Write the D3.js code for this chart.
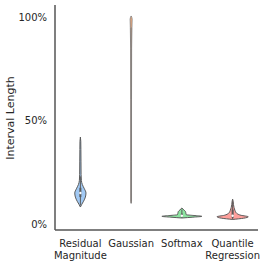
<!DOCTYPE html>
<html><head><meta charset="utf-8">
<script src="https://cdn.jsdelivr.net/npm/d3@7"></script>
<style>body{margin:0;background:#fff}svg{display:block}text{font-family:"DejaVu Sans",sans-serif;fill:#262626}</style>
</head><body><svg id="c" width="266" height="264"></svg>
<script>
const categories = ["Residual\nMagnitude", "Gaussian", "Softmax", "Quantile\nRegression"];
const colors = ["#a1c9f4", "#ffb482", "#8de5a1", "#ff9f9b"];
const yTicks = [0, 50, 100];
// density profiles: [value %, relative density]
const profileResidual = [[8.2,0],[9.5,0.07],[11,0.16],[13,0.25],[15,0.28],[17,0.2],[19,0.1],[21,0.05],[24,0.035],[30,0.03],[36,0.025],[40,0.02],[42,0]];
const profileGaussian = [[10,0],[11,0.02],[30,0.02],[60,0.02],[85,0.025],[95,0.04],[99,0.05],[100.5,0]];
const profileSoftmax = [[2.9,0],[3.3,0.55],[3.7,1.0],[4.1,0.6],[4.5,0.22],[5.2,0.2],[6,0.18],[6.8,0.1],[7.7,0]];
const profileQuantile = [[2.2,0],[2.8,0.55],[3.5,0.78],[4.2,0.42],[5.2,0.2],[6.5,0.12],[8,0.07],[9.5,0.04],[11,0.025],[12,0]];
const profiles = [profileResidual, profileGaussian, profileSoftmax, profileQuantile];
// box stats: [whiskerLow, q1, median, q3, whiskerHigh]
const boxStats = [[9,13,15,17.5,23],[10,35,70,95,100],[2.9,3.6,4.0,5.0,7],[2.2,3.0,4.0,7.0,11]];

const svg = d3.select("#c");
const x = d3.scaleBand().domain(d3.range(categories.length)).range([55, 258]);
const y = d3.scaleLinear().domain([0, 100]).range([224, 17]);
const w = d3.scaleLinear().domain([0, 1]).range([0, 20]);

svg.append("line").attr("x1",55).attr("x2",55).attr("y1",5).attr("y2",230).attr("stroke","#333").attr("stroke-width",1.25);
svg.append("line").attr("x1",55).attr("x2",258).attr("y1",230).attr("y2",230).attr("stroke","#555").attr("stroke-width",1.5);

const yAxis = d3.axisLeft(y).tickValues(yTicks).tickSize(0).tickPadding(8).tickFormat(d => d + "%");
const ga = svg.append("g").attr("transform","translate(55,0)").call(yAxis);
ga.select(".domain").remove();
ga.selectAll("text").style("font-size","10px").style("font-family","DejaVu Sans").attr("fill","#262626");

svg.append("text").attr("transform","translate(14,118) rotate(-90)").attr("text-anchor","middle").style("font-size","11px").text("Interval Length");

categories.forEach((c, i) => {
  const cx = x(i) + x.bandwidth()/2;
  const lines = c.split("\n");
  const t = svg.append("text").attr("x", cx).attr("y", 247).attr("text-anchor","middle").style("font-size","10px");
  lines.forEach((l, j) => t.append("tspan").attr("x", cx).attr("dy", j ? 11.5 : 0).text(l));

  const area = d3.area().curve(d3.curveMonotoneY)
    .y(d => y(d[0])).x0(d => cx - w(d[1])).x1(d => cx + w(d[1]));
  svg.append("path").datum(profiles[i]).attr("d", area)
    .attr("fill", colors[i]).attr("stroke", i === 1 ? "#777" : "#5a5a5a").attr("stroke-width", i === 1 ? 0.8 : 1);

  const b = boxStats[i];
  if (i !== 1) {
    svg.append("line").attr("x1",cx).attr("x2",cx).attr("y1",y(b[0])).attr("y2",y(b[4])).attr("stroke","#5a5a5a").attr("stroke-width",1);
    svg.append("line").attr("x1",cx).attr("x2",cx).attr("y1",y(b[1])).attr("y2",y(b[3])).attr("stroke","#5a5a5a").attr("stroke-width",2);
    svg.append("circle").attr("cx",cx).attr("cy",y(b[2])).attr("r",1.2).attr("fill","#fff");
  } else {
    svg.append("line").attr("x1",cx).attr("x2",cx).attr("y1",y(b[0])).attr("y2",y(b[3])).attr("stroke","#777").attr("stroke-width",0.8);
  }
});
</script></body></html>
